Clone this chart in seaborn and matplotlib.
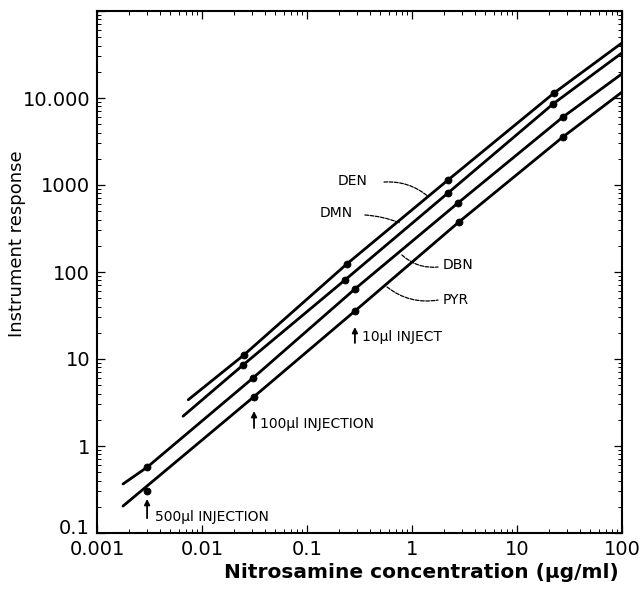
import numpy as np
import pandas as pd
import matplotlib
matplotlib.use("Agg")
import matplotlib.pyplot as plt
import matplotlib.ticker as mticker
import matplotlib.transforms as mtransforms
import seaborn as sns

# ---------------- data ----------------
series = ["DEN", "DMN", "DBN", "PYR"]

# drawn calibration lines (start, through the points, end)
den_line_x = [0.0074, 0.025, 0.24, 2.2, 22.5, 100]
den_line_y = [3.4, 11.1, 124, 1140, 11400, 43000]
dmn_line_x = [0.0066, 0.0245, 0.23, 2.2, 22, 100]
dmn_line_y = [2.2, 8.5, 81, 809, 8530, 33000]
dbn_line_x = [0.00177, 0.003, 0.0306, 0.286, 2.74, 27.4, 100]
dbn_line_y = [0.366, 0.57, 6.05, 63.8, 621, 6050, 19000]
pyr_line_x = [0.00177, 0.031, 0.286, 2.8, 27.4, 100]
pyr_line_y = [0.204, 3.66, 35.6, 376, 3570, 11700]

# measured points
den_pt_x = [0.025, 0.24, 2.2, 22.5]
den_pt_y = [11.1, 124, 1140, 11400]
dmn_pt_x = [0.0245, 0.23, 2.2, 22]
dmn_pt_y = [8.5, 81, 809, 8530]
dbn_pt_x = [0.003, 0.0306, 0.286, 2.74, 27.4]
dbn_pt_y = [0.57, 6.05, 63.8, 621, 6050]
pyr_pt_x = [0.003, 0.031, 0.286, 2.8, 27.4]
pyr_pt_y = [0.30, 3.66, 35.6, 376, 3570]

x_ticks = [0.001, 0.01, 0.1, 1, 10, 100]
x_ticklabels = ["0.001", "0.01", "0.1", "1", "10", "100"]
y_ticks = [0.1, 1, 10, 100, 1000, 10000]
y_ticklabels = ["0.1", "1", "10", "100", "1000", "10.000"]

injections = ["500\u00b5l INJECTION", "100\u00b5l INJECTION", "10\u00b5l INJECT"]
inj_x = [0.003, 0.0313, 0.286]
inj_tail_y = [0.148, 1.61, 15.3]
inj_tip_y = [0.246, 2.52, 23.3]
inj_text_x = [0.00356, 0.0356, 0.334]
inj_text_y = [0.153, 1.79, 17.9]

# series labels with leader lines
lab_text_x = [0.197, 0.133, 1.97, 1.97]
lab_text_y = [1112, 477, 120, 47.6]
lead_start_x = [0.541, 0.356, 0.80, 0.578]
lead_start_y = [1081, 452, 157, 67.3]
lead_end_x = [1.42, 0.77, 1.77, 1.77]
lead_end_y = [740, 366, 114, 47.6]
lead_rad = [-0.2, -0.08, 0.22, 0.22]

# ---------------- build tables ----------------
lines = pd.concat([
    pd.DataFrame({"x": den_line_x, "y": den_line_y, "s": "DEN"}),
    pd.DataFrame({"x": dmn_line_x, "y": dmn_line_y, "s": "DMN"}),
    pd.DataFrame({"x": dbn_line_x, "y": dbn_line_y, "s": "DBN"}),
    pd.DataFrame({"x": pyr_line_x, "y": pyr_line_y, "s": "PYR"}),
], ignore_index=True)
points = pd.concat([
    pd.DataFrame({"x": den_pt_x, "y": den_pt_y, "s": "DEN"}),
    pd.DataFrame({"x": dmn_pt_x, "y": dmn_pt_y, "s": "DMN"}),
    pd.DataFrame({"x": dbn_pt_x, "y": dbn_pt_y, "s": "DBN"}),
    pd.DataFrame({"x": pyr_pt_x, "y": pyr_pt_y, "s": "PYR"}),
], ignore_index=True)

# ---------------- figure ----------------
sns.set_theme(style="white")
plt.rcParams["font.family"] = ["DejaVu Sans"]

fig = plt.figure(figsize=(6.4, 5.89), dpi=100)
ax = fig.add_axes([97 / 640, 1 - 533 / 589, 525 / 640, 522 / 589])
ax.set_xscale("log")
ax.set_yscale("log")

for s in series:
    sub = lines[lines["s"] == s]
    sns.lineplot(data=sub, x="x", y="y", ax=ax, color="black", lw=2.0,
                 sort=False, estimator=None, legend=False)
sns.scatterplot(data=points, x="x", y="y", ax=ax, color="black", s=26,
                edgecolor="black", linewidth=0.5, legend=False, zorder=3)

ax.set_xlim(0.001, 100)
ax.set_ylim(0.1, 1e5)

ax.xaxis.set_major_locator(mticker.FixedLocator(x_ticks))
ax.xaxis.set_major_formatter(mticker.FixedFormatter(x_ticklabels))
ax.yaxis.set_major_locator(mticker.FixedLocator(y_ticks + [1e5]))
ax.yaxis.set_major_formatter(mticker.FixedFormatter(y_ticklabels + [""]))
ax.xaxis.set_minor_locator(mticker.LogLocator(base=10, subs=np.arange(2, 10), numticks=20))
ax.yaxis.set_minor_locator(mticker.LogLocator(base=10, subs=np.arange(2, 10), numticks=20))
ax.xaxis.set_minor_formatter(mticker.NullFormatter())
ax.yaxis.set_minor_formatter(mticker.NullFormatter())
ax.tick_params(which="both", direction="in", top=True, right=True,
               bottom=True, left=True, color="black")
ax.tick_params(which="major", length=6, width=0.9, labelsize=14, pad=5,
               labelcolor="black")
ax.tick_params(which="minor", length=3, width=0.7)
for sp in ax.spines.values():
    sp.set_color("black")
    sp.set_linewidth(1.5)
ax.set_xlabel("")
ax.set_ylabel("")

# lift the "0.1" y label slightly so it sits above "0.001" like the original
fig.canvas.draw()
lab01 = ax.yaxis.get_major_ticks()[0].label1
lab01.set_transform(lab01.get_transform() +
                    mtransforms.ScaledTranslation(0, 5 / 72, fig.dpi_scale_trans))

fig.text(421 / 640, 1 - 572 / 589, "Nitrosamine concentration (\u00b5g/ml)",
         ha="center", va="center", fontsize=14.5, fontweight="bold", color="black")
fig.text(17 / 640, 1 - 244 / 589, "Instrument response", rotation=90,
         ha="center", va="center", fontsize=13, color="black")

# injection arrows
for t, x, y0, y1, tx, ty in zip(injections, inj_x, inj_tail_y, inj_tip_y,
                                inj_text_x, inj_text_y):
    ax.annotate("", xy=(x, y1), xytext=(x, y0),
                arrowprops=dict(arrowstyle="-|>", color="black", lw=1.3,
                                mutation_scale=8, shrinkA=0, shrinkB=0))
    ax.text(tx, ty, t, ha="left", va="center", fontsize=10, color="black")

# series labels
for s, tx, ty, x0, y0, x1, y1, r in zip(series, lab_text_x, lab_text_y,
                                        lead_start_x, lead_start_y,
                                        lead_end_x, lead_end_y, lead_rad):
    ax.text(tx, ty, s, ha="left", va="center", fontsize=10, color="black")
    ax.annotate("", xy=(x1, y1), xytext=(x0, y0),
                arrowprops=dict(arrowstyle="-", color="black", lw=0.9,
                                linestyle=(0, (3, 1.2)),
                                connectionstyle=f"arc3,rad={r}",
                                shrinkA=0, shrinkB=0))

fig.savefig("out.png", dpi=100)
